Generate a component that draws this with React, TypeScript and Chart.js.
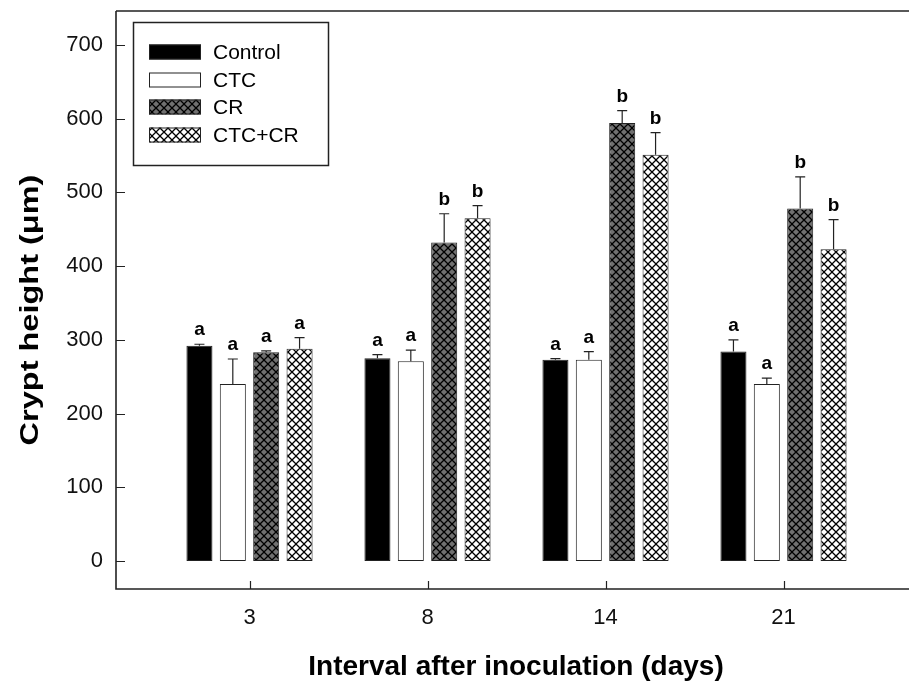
import React, { useEffect, useRef } from "react";
import { Chart, registerables } from "chart.js";

Chart.register(...registerables);

// ---- data ----
const CATEGORIES = ["3", "8", "14", "21"];
const SERIES_NAMES = ["Control", "CTC", "CR", "CTC+CR"];
const CONTROL = [292, 275, 273, 284];
const CONTROL_ERR = [2, 5, 1.5, 16];
const CTC = [240, 271, 273, 240];
const CTC_ERR = [34, 15, 11, 8];
const CR = [283, 432, 594, 478];
const CR_ERR = [2, 39, 17, 43];
const CTC_CR = [288, 465, 551, 423];
const CTC_CR_ERR = [15, 17, 30, 40];
const CONTROL_SIG = ["a", "a", "a", "a"];
const CTC_SIG = ["a", "a", "a", "a"];
const CR_SIG = ["a", "b", "b", "b"];
const CTC_CR_SIG = ["a", "b", "b", "b"];
const Y_TICKS = [0, 100, 200, 300, 400, 500, 600, 700];
const X_TITLE = "Interval after inoculation (days)";
const Y_TITLE = "Crypt height (\u03bcm)";

const FONT = "'Liberation Sans', Arial, Helvetica, sans-serif";

function makePattern(bg: string): CanvasPattern | string {
  const c = document.createElement("canvas");
  c.width = 8;
  c.height = 8;
  const g = c.getContext("2d");
  if (!g) return bg;
  g.fillStyle = bg;
  g.fillRect(0, 0, 8, 8);
  g.strokeStyle = "#000";
  g.lineWidth = 1.3;
  g.beginPath();
  g.moveTo(-1, -1);
  g.lineTo(9, 9);
  g.moveTo(9, -1);
  g.lineTo(-1, 9);
  g.stroke();
  const p = g.createPattern(c, "repeat");
  return p || bg;
}

export default function App() {
  const ref = useRef<HTMLCanvasElement | null>(null);

  useEffect(() => {
    const canvas = ref.current;
    if (!canvas) return;
    const crPat = makePattern("#707070");
    const ccPat = makePattern("#ffffff");

    const values = [CONTROL, CTC, CR, CTC_CR];
    const errs = [CONTROL_ERR, CTC_ERR, CR_ERR, CTC_CR_ERR];
    const sigs = [CONTROL_SIG, CTC_SIG, CR_SIG, CTC_CR_SIG];
    const fills: (string | CanvasPattern)[] = ["#000000", "#ffffff", crPat, ccPat];

    const datasets = SERIES_NAMES.map((name, d) => ({
      label: name,
      data: values[d].map((v, i) => ({ x: i, y: v })),
      backgroundColor: fills[d],
      borderColor: "#222",
      borderWidth: 1,
      borderSkipped: false as const,
      categoryPercentage: 0.75,
      barPercentage: 0.78,
    }));

    const decor = {
      id: "decor",
      afterDatasetsDraw(chart: any) {
        const ctx = chart.ctx;
        const ys = chart.scales.y;
        ctx.save();
        ctx.strokeStyle = "#222";
        ctx.lineWidth = 1.2;
        ctx.fillStyle = "#000";
        ctx.font = `bold 19px ${FONT}`;
        ctx.textAlign = "center";
        ctx.textBaseline = "alphabetic";
        for (let d = 0; d < datasets.length; d++) {
          const meta = chart.getDatasetMeta(d);
          meta.data.forEach((el: any, i: number) => {
            const top = ys.getPixelForValue(values[d][i]);
            const et = ys.getPixelForValue(values[d][i] + errs[d][i]);
            ctx.beginPath();
            ctx.moveTo(el.x, top);
            ctx.lineTo(el.x, et);
            ctx.moveTo(el.x - 5, et);
            ctx.lineTo(el.x + 5, et);
            ctx.stroke();
            ctx.fillText(sigs[d][i], el.x, et - 9);
          });
        }
        ctx.restore();
      },
      afterDraw(chart: any) {
        const ctx = chart.ctx;
        const a = chart.chartArea;
        const xs = chart.scales.x;
        const ys = chart.scales.y;
        ctx.save();
        // axes frame
        ctx.strokeStyle = "#222";
        ctx.lineWidth = 1.6;
        ctx.beginPath();
        ctx.moveTo(a.left, a.top);
        ctx.lineTo(a.right, a.top);
        ctx.moveTo(a.left, a.top);
        ctx.lineTo(a.left, a.bottom);
        ctx.lineTo(a.right, a.bottom);
        ctx.stroke();
        // inside ticks
        ctx.lineWidth = 1.2;
        ctx.beginPath();
        Y_TICKS.forEach((t) => {
          const py = Math.round(ys.getPixelForValue(t)) + 0.5;
          ctx.moveTo(a.left, py);
          ctx.lineTo(a.left + 9, py);
        });
        CATEGORIES.forEach((_, i) => {
          const px = Math.round(xs.getPixelForValue(i)) + 0.5;
          ctx.moveTo(px, a.bottom);
          ctx.lineTo(px, a.bottom - 8);
        });
        ctx.stroke();
        // axis titles
        ctx.fillStyle = "#000";
        ctx.font = `bold 28px ${FONT}`;
        ctx.textAlign = "center";
        ctx.textBaseline = "middle";
        ctx.fillText(X_TITLE, 516, 667);
        ctx.save();
        ctx.translate(31, 310);
        ctx.rotate(-Math.PI / 2);
        ctx.scale(1.3, 1);
        ctx.font = `bold 25px ${FONT}`;
        ctx.fillText(Y_TITLE, 0, 0);
        ctx.restore();
        // legend
        ctx.lineWidth = 1.5;
        ctx.strokeStyle = "#222";
        ctx.strokeRect(133.5, 22.5, 195, 143);
        const rows = [52, 80, 107, 135];
        ctx.font = `21px ${FONT}`;
        ctx.textAlign = "left";
        ctx.textBaseline = "middle";
        SERIES_NAMES.forEach((name, d) => {
          const cy = rows[d];
          ctx.fillStyle = fills[d] as any;
          ctx.fillRect(149, cy - 7.5, 52, 15);
          ctx.lineWidth = 1;
          ctx.strokeStyle = "#222";
          ctx.strokeRect(149.5, cy - 7, 51, 14);
          ctx.fillStyle = "#000";
          ctx.fillText(name, 213, cy + 1);
        });
        ctx.restore();
      },
    };

    const chart = new Chart(canvas, {
      type: "bar",
      data: { datasets: datasets as any },
      options: {
        animation: false,
        responsive: false,
        devicePixelRatio: 1,
        layout: { padding: { top: 11, right: 0, left: 0, bottom: 0 } },
        plugins: { legend: { display: false }, tooltip: { enabled: false } },
        scales: {
          x: {
            type: "linear",
            offset: false,
            min: -0.75,
            max: 3.705,
            grid: { display: false, drawTicks: false, offset: false },
            border: { display: false },
            afterBuildTicks: (s: any) => {
              s.ticks = CATEGORIES.map((_, i) => ({ value: i }));
            },
            afterFit: (s: any) => {
              s.height = 95;
              s.paddingLeft = 0;
              s.paddingRight = 0;
            },
            ticks: {
              padding: 16,
              color: "#111",
              font: { family: FONT, size: 22 },
              maxRotation: 0,
              autoSkip: false,
              callback: (v: any) => CATEGORIES[Number(v)] ?? "",
            },
          },
          y: {
            type: "linear",
            min: -38,
            max: 746,
            grid: { display: false, drawTicks: false },
            border: { display: false },
            afterBuildTicks: (s: any) => {
              s.ticks = Y_TICKS.map((v) => ({ value: v }));
            },
            afterFit: (s: any) => {
              s.width = 116;
              s.paddingTop = 0;
              s.paddingBottom = 0;
            },
            ticks: {
              padding: 13,
              color: "#111",
              font: { family: FONT, size: 22 },
              autoSkip: false,
            },
          },
        },
      },
      plugins: [decor],
    });
    return () => chart.destroy();
  }, []);

  return (
    <div style={{ position: "fixed", left: 0, top: 0, width: 909, height: 684, background: "#fff" }}>
      <canvas ref={ref} width={909} height={684} style={{ width: 909, height: 684, display: "block" }} />
    </div>
  );
}
